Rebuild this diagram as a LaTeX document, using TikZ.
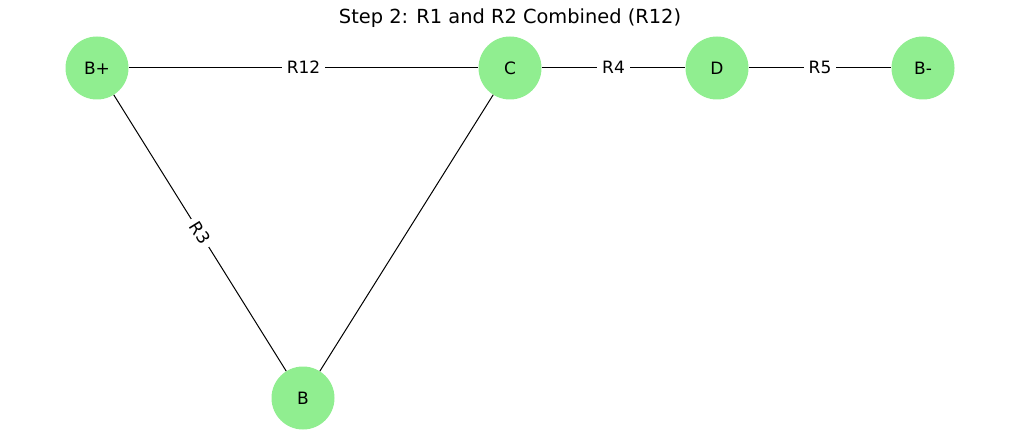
\documentclass[tikz,border=0pt]{standalone}
\usepackage{fontspec}
\setmainfont{DejaVu Sans}
\definecolor{lightgreen}{HTML}{90EE90}

\begin{document}
\begin{tikzpicture}[x=1pt,y=-1pt,
   vertex/.style={circle,fill=lightgreen,minimum size=63pt,inner sep=0pt,font=\fontsize{17}{20}\selectfont},
   wire/.style={black,line width=1pt},
   rlabel/.style={fill=white,inner sep=5pt,text height=12pt,text depth=0pt,font=\fontsize{17}{20}\selectfont}]
   \useasboundingbox (0,0) rectangle (1019,443);
   \node (title) at (510,18) {\fontsize{19.4}{23}\selectfont Step 2: R1 and R2 Combined (R12)};
   \node[vertex] (Bp) at (97,68) {B+};
   \node[vertex] (C) at (510,68) {C};
   \node[vertex] (D) at (717,68) {D};
   \node[vertex] (Bm) at (923,68) {B-};
   \node[vertex] (B) at (303,398) {B};
   \draw[wire] (Bp) -- node[rlabel] {R12} (C);
   \draw[wire] (C) -- node[rlabel] {R4} (D);
   \draw[wire] (D) -- node[rlabel] {R5} (Bm);
   \draw[wire] (Bp) -- node[rlabel,sloped] {R3} (B);
   \draw[wire] (C) -- (B);
  \end{tikzpicture}
\end{document}
